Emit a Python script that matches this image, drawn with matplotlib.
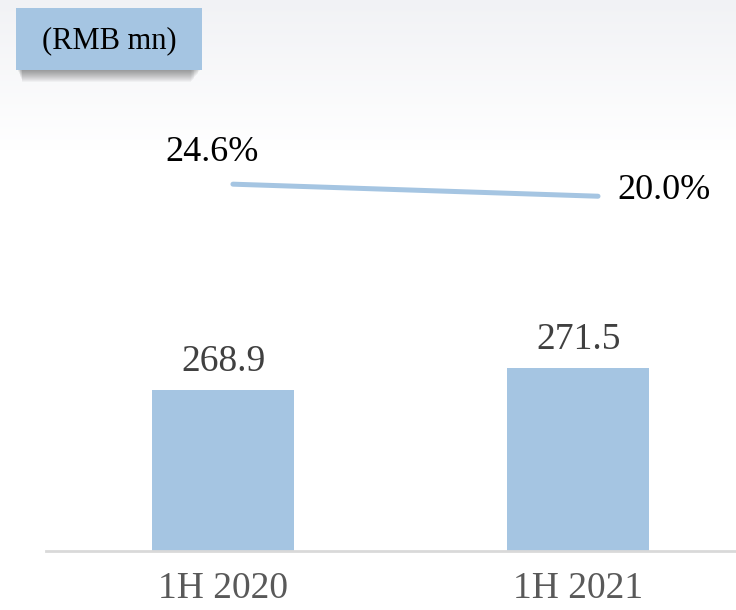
import numpy as np
import matplotlib.pyplot as plt
from matplotlib.patches import Rectangle

# data
periods = ['1H 2020', '1H 2021']
revenue = [268.9, 271.5]          # RMB mn, bars
margin = [24.6, 20.0]             # %, line
unit_label = '(RMB mn)'

blue = '#a5c5e2'
W, H = 736, 610

plt.rcParams['font.family'] = ['Liberation Serif', 'DejaVu Serif']

fig = plt.figure(figsize=(W / 100, H / 100), dpi=100)

# light grey gradient at the top of the slide
bg = fig.add_axes([0, 0, 1, 1], zorder=-10)
t = np.clip(np.arange(H) / 150.0, 0, 1)[:, None]
top = np.array([241, 242, 245]) / 255.0
grad = top + (1 - top) * t
grad = np.repeat(grad[:, None, :], 2, axis=1)
bg.imshow(grad, aspect='auto', extent=[0, 1, 0, 1])
bg.axis('off')

# main axes (pixel layout)
left, right, base, ytop = 46, 736, 551, 100
rect = [left / W, (H - base) / H, (right - left) / W, (base - ytop) / H]

ax = fig.add_axes(rect)
ax.patch.set_visible(False)
x = np.arange(len(periods))
bars = ax.bar(x, revenue, width=0.4, color=blue, zorder=2)
ax.set_xlim(-0.5, 1.444)
ax.set_ylim(250, 303.1)
for s in ['top', 'right', 'left']:
    ax.spines[s].set_visible(False)
ax.spines['bottom'].set_color('#d9d9d9')
ax.spines['bottom'].set_linewidth(2)
ax.set_yticks([])
ax.set_xticks(x, periods)
ax.tick_params(axis='x', length=0, pad=15, labelsize=27, labelcolor='#595959')

for b, v in zip(bars, revenue):
    ax.annotate(f'{v:.1f}', (b.get_x() + b.get_width() / 2, v),
                xytext=(0, 19), textcoords='offset pixels',
                ha='center', va='baseline', fontsize=27, color='#404040')

# margin line on its own axes
ax2 = fig.add_axes(rect)
ax2.patch.set_visible(False)
ax2.axis('off')
ax2.set_xlim(-0.512, 1.378)
ax2.set_ylim(-115.3, 56.7)
ax2.plot([0, 1], margin, color=blue, lw=3.6, solid_capstyle='round')
ax2.annotate(f'{margin[0]:.1f}%', (0, margin[0]), xytext=(-21, 32),
             textcoords='offset pixels', ha='center', va='center',
             fontsize=26, color='black')
ax2.annotate(f'{margin[1]:.1f}%', (1, margin[1]), xytext=(19, 6),
             textcoords='offset pixels', ha='left', va='center',
             fontsize=26, color='black')

# unit label box with soft shadow
for i in range(12):
    fig.patches.append(Rectangle(((18 + i * 0.4) / W, (H - 70 - 1 - i) / H),
                                 (182 - i * 1.2) / W, 62 / H,
                                 transform=fig.transFigure, facecolor='black',
                                 edgecolor='none', alpha=0.035, zorder=1))
fig.patches.append(Rectangle((16 / W, (H - 70) / H), 186 / W, 62 / H,
                             transform=fig.transFigure, facecolor=blue,
                             edgecolor='none', zorder=2))
fig.text(109 / W, (H - 41) / H, unit_label, ha='center', va='center',
         fontsize=22, color='black', zorder=3)

fig.savefig('out.png', dpi=100)
